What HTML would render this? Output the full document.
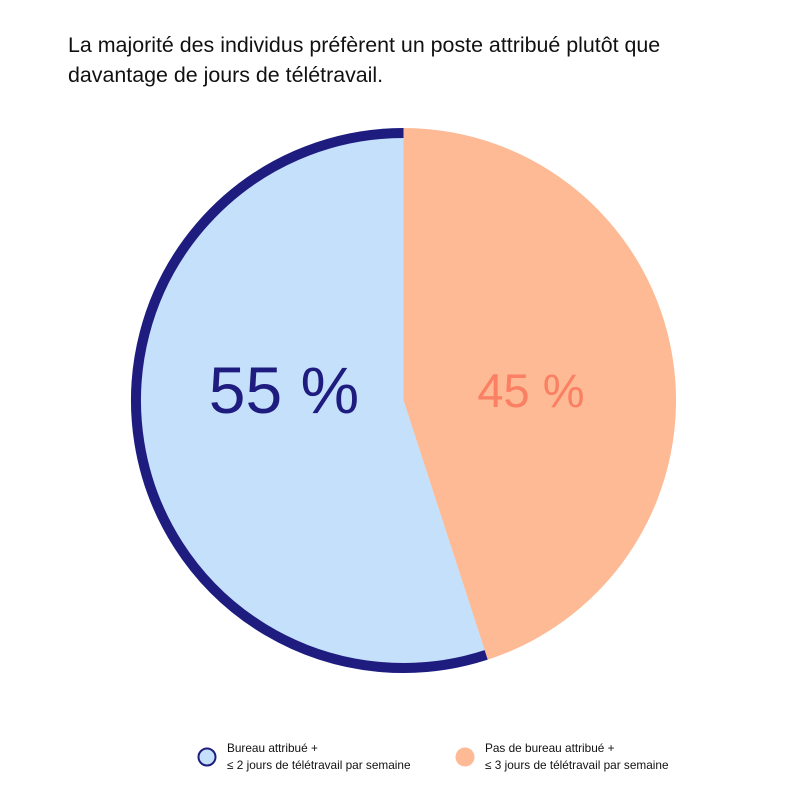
<!DOCTYPE html>
<html><head><meta charset="utf-8">
<style>
html,body{margin:0;padding:0;background:#fff;}
body{width:795px;height:807px;overflow:hidden;position:relative;font-family:"Liberation Sans",sans-serif;}
#title{position:absolute;left:68px;top:30px;font-size:21.4px;line-height:30px;color:#111;margin:0;font-weight:normal;}
svg{position:absolute;left:0;top:0;}
</style></head>
<body>
<h1 id="title">La majorité des individus préfèrent un poste attribué plutôt que<br>davantage de jours de télétravail.</h1>
<svg id="chart" width="795" height="807">
  <g id="slices"></g>
  <g id="legend">
    <g>
      <circle cx="207" cy="757" r="8.5" fill="#c5e0fb" stroke="#1f1c7f" stroke-width="2"/>
      <text x="227" y="752" font-size="11.8" fill="#111">Bureau attribué +</text>
      <text x="227" y="769" font-size="11.8" fill="#111">≤ 2 jours de télétravail par semaine</text>
    </g>
    <g>
      <circle cx="465" cy="757" r="9.5" fill="#fdba94"/>
      <text x="485" y="752" font-size="11.8" fill="#111">Pas de bureau attribué +</text>
      <text x="485" y="769" font-size="11.8" fill="#111">≤ 3 jours de télétravail par semaine</text>
    </g>
  </g>
  <text x="284" y="413" font-size="66" text-anchor="middle" fill="#1f1c7f">55 %</text>
  <text x="531" y="407" font-size="47" text-anchor="middle" fill="#fb7f63">45 %</text>
</svg>
<script>
const categories = ["Bureau attribué", "Pas de bureau attribué"];
const values = [55, 45];
const cx = 403.5, cy = 400.5, R = 272.5, ring = 10;
const g = document.getElementById('slices');
const NS = 'http://www.w3.org/2000/svg';
const total = values.reduce((a,b)=>a+b,0);
function pt(a, r){ return [cx + r*Math.sin(a), cy - r*Math.cos(a)]; }
const a1 = values[1]/total*2*Math.PI;
function sector(a0, a1, r){
  const p0 = pt(a0, r), p1 = pt(a1, r);
  const large = (a1 - a0) > Math.PI ? 1 : 0;
  return `M${cx},${cy} L${p0[0]},${p0[1]} A${r},${r} 0 ${large} 1 ${p1[0]},${p1[1]} Z`;
}
const orange = document.createElementNS(NS,'path');
orange.setAttribute('d', sector(0, a1, R));
orange.setAttribute('fill', '#fdba94');


g.appendChild(orange);
const blue = document.createElementNS(NS,'path');
blue.setAttribute('d', sector(a1, 2*Math.PI, R));
blue.setAttribute('fill', '#c5e0fb');


g.appendChild(blue);
const rr = R - ring/2;
const q0 = pt(a1, rr), q1 = pt(2*Math.PI, rr);
const large = (2*Math.PI - a1) > Math.PI ? 1 : 0;
const arc = document.createElementNS(NS,'path');
arc.setAttribute('d', `M${q0[0]},${q0[1]} A${rr},${rr} 0 ${large} 1 ${q1[0]},${q1[1]}`);
arc.setAttribute('fill', 'none');
arc.setAttribute('stroke', '#1f1c7f');
arc.setAttribute('stroke-width', ring);


g.appendChild(arc);
</script>
</body></html>
